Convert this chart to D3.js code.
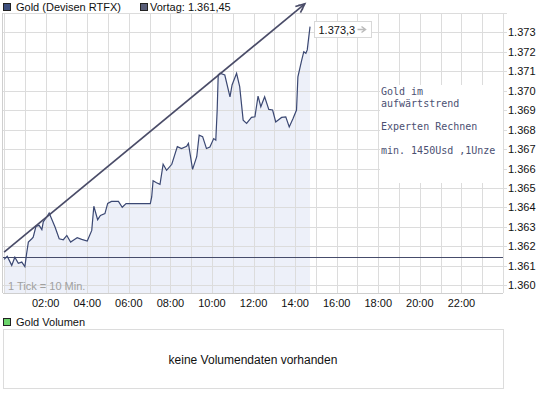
<!DOCTYPE html>
<html>
<head>
<meta charset="utf-8">
<script src="https://cdn.jsdelivr.net/npm/d3@7"></script>
<style>
    body { margin: 0; background: #fff; }
    svg { display: block; }
    text { font-family: "Liberation Sans", Arial, sans-serif; font-size: 11px; fill: #111; }
    .note { font-family: "DejaVu Sans Mono", monospace; font-size: 10px; fill: #4b5072; }
</style>
</head>
<body>
<svg id="chart" width="545" height="398"></svg>
<script>
/*globals d3*/

// price trace
var times = ["00:00", "00:09", "00:22", "00:31", "00:41", "00:51", "01:00", "01:05", "01:10", "01:20",
    "01:24", "01:32", "01:41", "01:49", "01:53", "02:03", "02:10", "02:17", "02:27", "02:39",
    "02:51", "03:01", "03:12", "03:22", "03:31", "03:44", "04:00", "04:13", "04:19", "04:30",
    "04:38", "04:51", "04:59", "05:10", "05:30", "05:41", "05:52", "07:02", "07:06", "07:10",
    "07:20", "07:30", "07:39", "07:49", "08:04", "08:20", "08:32", "08:47", "08:52", "09:04",
    "09:16", "09:23", "09:33", "09:44", "09:54", "10:05", "10:11", "10:15", "10:18", "10:23",
    "10:37", "10:52", "10:58", "11:11", "11:20", "11:30", "11:40", "11:54", "12:04", "12:13",
    "12:21", "12:32", "12:44", "12:55", "13:04", "13:21", "13:33", "13:43", "13:54", "14:04",
    "14:08", "14:19", "14:25", "14:31", "14:35", "14:43"];
var prices = [1.36133, 1.36149, 1.36102, 1.36144, 1.36113, 1.36119, 1.36096, 1.36163, 1.36222, 1.36239,
    1.36247, 1.36303, 1.36308, 1.36286, 1.36325, 1.36351, 1.36371, 1.36342, 1.36299, 1.36239,
    1.36234, 1.36256, 1.36222, 1.36234, 1.36244, 1.36236, 1.36227, 1.36282, 1.36406, 1.36337,
    1.36359, 1.36368, 1.36421, 1.36431, 1.36431, 1.36401, 1.36420, 1.36420, 1.36454, 1.36537,
    1.36527, 1.36519, 1.36622, 1.36591, 1.36622, 1.36713, 1.36703, 1.36715, 1.36729, 1.36596,
    1.36661, 1.36772, 1.36764, 1.36703, 1.36711, 1.36754, 1.36746, 1.36900, 1.37081, 1.37090,
    1.37081, 1.36969, 1.37030, 1.37090, 1.37021, 1.36849, 1.36832, 1.36863, 1.36866, 1.36973,
    1.36918, 1.36969, 1.36904, 1.36901, 1.36840, 1.36863, 1.36866, 1.36814, 1.36858, 1.36901,
    1.37072, 1.37158, 1.37201, 1.37193, 1.37210, 1.37330];

var vortag = 1.36145;
var trendTimes = ["00:00", "14:28"];
var trendPrices = [1.3617, 1.37447];
var priceTicks = [1.360, 1.361, 1.362, 1.363, 1.364, 1.365, 1.366, 1.367, 1.368, 1.369, 1.370, 1.371, 1.372, 1.373];
var hourLabels = ["02:00", "04:00", "06:00", "08:00", "10:00", "12:00", "14:00", "16:00", "18:00", "20:00", "22:00"];
var legendLabels = ["Gold (Devisen RTFX)", "Vortag: 1.361,45"];
var lastLabel = "1.373,3";
var noteLines = ["Gold im", "aufwärtstrend", "", "Experten Rechnen", "", "min. 1450Usd ,1Unze"];

(function () {
    "use strict";

    var svg = d3.select("#chart"),
        parse = d3.timeParse("%H:%M"),
        day0 = parse("00:00"),
        x,
        y,
        series,
        trend,
        left = 3,
        right = 503,
        top = 13,
        bottom = 293,
        plot,
        line,
        area,
        label,
        legend;

    series = times.map(function (t, i) { return {t: parse(t), v: prices[i]}; });
    trend = trendTimes.map(function (t, i) { return {t: parse(t), v: trendPrices[i]}; });

    x = d3.scaleTime()
        .domain([day0, d3.timeDay.offset(day0, 1)])
        .range([4.1, right]);
    y = d3.scaleLinear()
        .domain([1.3596, 1.374])
        .range([bottom, top]);

    // legend on top
    legend = svg.append("g");
    legend.selectAll("rect").data(legendLabels)
        .enter().append("rect")
        .attr("x", function (d, i) { return i === 0 ? 3.5 : 140.5; })
        .attr("y", 3.5)
        .attr("width", 7)
        .attr("height", 7)
        .attr("fill", function (d, i) { return i === 0 ? "#3d4f7e" : "#585d78"; })
        .attr("stroke", "#222");
    legend.selectAll("text").data(legendLabels)
        .enter().append("text")
        .attr("x", function (d, i) { return i === 0 ? 16 : 150; })
        .attr("y", 11)
        .text(function (d) { return d; });

    plot = svg.append("g");

    area = d3.area()
        .x(function (d) { return x(d.t); })
        .y0(bottom)
        .y1(function (d) { return y(d.v); });
    plot.append("path")
        .datum(series)
        .attr("d", area)
        .attr("fill", "#edf0f9");

    // grid
    plot.selectAll("line.vgrid").data(d3.timeHour.range(day0, d3.timeDay.offset(day0, 1), 1).concat([d3.timeDay.offset(day0, 1)]))
        .enter().append("line")
        .attr("class", "vgrid")
        .attr("x1", function (d) { return Math.round(x(d)) + 0.5; })
        .attr("x2", function (d) { return Math.round(x(d)) + 0.5; })
        .attr("y1", top)
        .attr("y2", bottom)
        .attr("stroke", "#dcdcdc");
    plot.selectAll("line.hgrid").data(priceTicks.concat([1.374]))
        .enter().append("line")
        .attr("class", "hgrid")
        .attr("x1", left)
        .attr("x2", right + 4)
        .attr("y1", function (d) { return Math.round(y(d)) + 0.5; })
        .attr("y2", function (d) { return Math.round(y(d)) + 0.5; })
        .attr("stroke", "#dcdcdc");
    plot.append("line")
        .attr("x1", left - 0.5).attr("x2", left - 0.5)
        .attr("y1", top).attr("y2", bottom)
        .attr("stroke", "#cfcfcf");
    plot.append("line")
        .attr("x1", left).attr("x2", right)
        .attr("y1", bottom + 0.5).attr("y2", bottom + 0.5)
        .attr("stroke", "#cfcfcf");

    // axis labels
    plot.selectAll("text.ylab").data(priceTicks)
        .enter().append("text")
        .attr("class", "ylab")
        .attr("x", 508)
        .attr("y", function (d) { return y(d) + 4; })
        .text(function (d) { return d3.format(".3f")(d); });
    plot.selectAll("text.xlab").data(hourLabels)
        .enter().append("text")
        .attr("class", "xlab")
        .attr("x", function (d) { return x(parse(d)); })
        .attr("y", 307)
        .attr("text-anchor", "middle")
        .text(function (d) { return d; });
    plot.append("text")
        .attr("x", 8)
        .attr("y", 290)
        .style("fill", "#a0a0a0")
        .text("1 Tick = 10 Min.");

    // Vortag line
    plot.append("line")
        .attr("x1", left)
        .attr("x2", right)
        .attr("y1", Math.round(y(vortag)) + 0.5)
        .attr("y2", Math.round(y(vortag)) + 0.5)
        .attr("stroke", "#464c6b")
        .attr("stroke-width", 1);

    line = d3.line()
        .x(function (d) { return x(d.t); })
        .y(function (d) { return y(d.v); });
    plot.append("path")
        .datum(series)
        .attr("d", line)
        .attr("fill", "none")
        .attr("stroke", "#3b4873")
        .attr("stroke-width", 1.2);

    // trend arrow
    svg.append("defs").append("marker")
        .attr("id", "head")
        .attr("viewBox", "-10 -6 14 12")
        .attr("refX", 0)
        .attr("refY", 0)
        .attr("markerWidth", 14)
        .attr("markerHeight", 12)
        .attr("markerUnits", "userSpaceOnUse")
        .attr("orient", "auto")
        .append("path")
        .attr("d", "M-9,-4L0,0L-9,4M-6,-3L-1,0L-6,3")
        .attr("fill", "none")
        .attr("stroke", "#4a4c68")
        .attr("stroke-width", 1.6);
    plot.append("path")
        .datum(trend)
        .attr("d", line)
        .attr("fill", "none")
        .attr("stroke", "#4a4c68")
        .attr("stroke-width", 1.7)
        .attr("marker-end", "url(#head)");

    // note box
    plot.append("rect")
        .attr("x", 380)
        .attr("y", 85)
        .attr("width", right - 380)
        .attr("height", 98)
        .attr("fill", "#fff");
    plot.selectAll("text.note").data(noteLines)
        .enter().append("text")
        .attr("class", "note")
        .attr("x", 381)
        .attr("y", function (d, i) { return 95 + i * 11.8; })
        .text(function (d) { return d; });

    // last value label
    label = plot.append("g")
        .attr("transform", "translate(314.5," + Math.round(y(prices[prices.length - 1]) - 6) + ".5)");
    label.append("rect")
        .attr("width", 57)
        .attr("height", 16)
        .attr("fill", "#fff")
        .attr("stroke", "#d8d8d8");
    label.append("text")
        .attr("x", 4)
        .attr("y", 12)
        .text(lastLabel);
    label.append("path")
        .attr("d", "M43,8H50M47,5L51,8L47,11")
        .attr("fill", "none")
        .attr("stroke", "#bbb")
        .attr("stroke-width", 1.5);

    // volume panel
    svg.append("rect")
        .attr("x", 3.5).attr("y", 318.5)
        .attr("width", 7).attr("height", 7)
        .attr("fill", "#6bd46b")
        .attr("stroke", "#222");
    svg.append("text")
        .attr("x", 16)
        .attr("y", 326)
        .text("Gold Volumen");
    svg.append("rect")
        .attr("x", 3.5).attr("y", 329.5)
        .attr("width", right - 3)
        .attr("height", 59)
        .attr("fill", "#fff")
        .attr("stroke", "#dcdcdc");
    svg.append("text")
        .attr("x", (3 + right) / 2)
        .attr("y", 364)
        .attr("text-anchor", "middle")
        .style("font-size", "12px")
        .text("keine Volumendaten vorhanden");
}());
</script>
</body>
</html>
